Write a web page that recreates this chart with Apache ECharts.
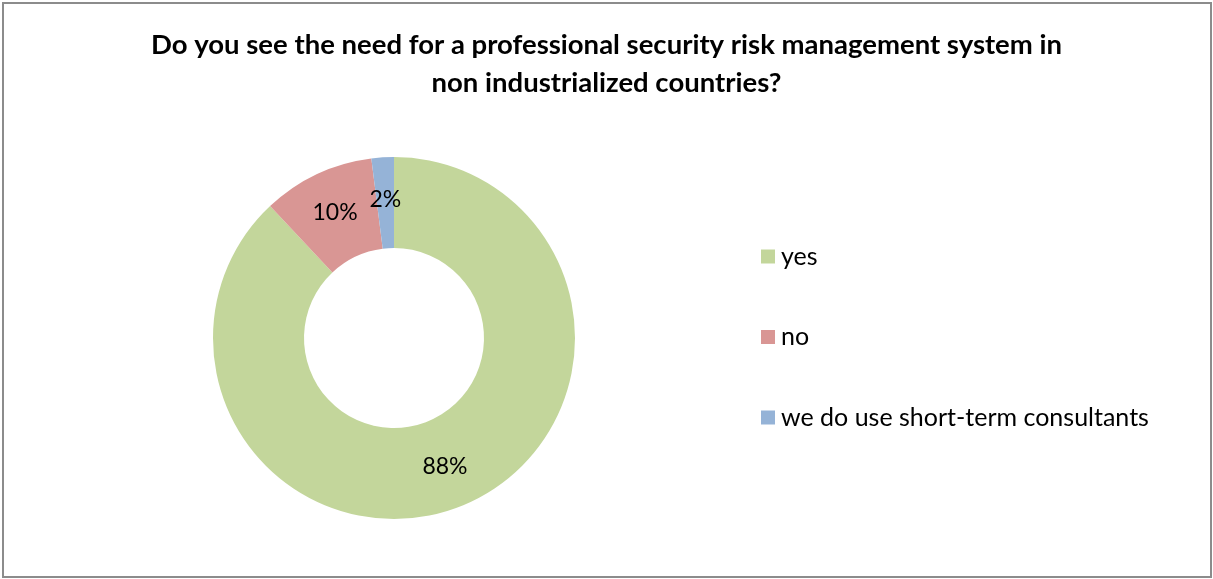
<!DOCTYPE html>
<html>
<head>
<meta charset="utf-8">
<script src="https://cdn.jsdelivr.net/npm/echarts@6/dist/echarts.min.js"></script>
<style>
  html, body { margin: 0; padding: 0; background: #fff; }
  #chart { width: 1213px; height: 579px; }
</style>
</head>
<body>
<div id="chart"></div>
<script>
// Survey answers and their shares (percent)
const titleText = 'Do you see the need for a professional security risk management system in\nnon industrialized countries?';
const categories = ['yes', 'no', 'we do use short-term consultants'];
const shares = [88, 10, 2];
const sliceColors = ['#C3D69B', '#D99694', '#95B3D7'];

const chart = echarts.init(document.getElementById('chart'), null, { renderer: 'canvas' });

const FONT = 'Lato, "Open Sans", sans-serif';

chart.setOption({
  animation: false,
  backgroundColor: '#ffffff',
  color: sliceColors,
  title: {
    text: titleText,
    left: 'center',
    top: 21,
    textStyle: {
      fontFamily: FONT,
      fontWeight: 'bold',
      fontSize: 27.5,
      lineHeight: 38,
      color: '#000'
    }
  },
  legend: {
    orient: 'vertical',
    left: 756,
    top: 239,
    itemWidth: 14,
    itemHeight: 14,
    itemGap: 55.5,
    icon: 'rect',
    data: categories,
    textStyle: {
      fontFamily: FONT,
      fontSize: 25,
      lineHeight: 22,
      color: '#000',
      padding: [0, 0, 0, 1]
    }
  },
  graphic: [{
    type: 'rect',
    shape: { x: 3, y: 3, width: 1208, height: 574 },
    style: { fill: 'none', stroke: '#8c8c8c', lineWidth: 2 },
    silent: true
  }],
  series: [{
    type: 'pie',
    center: [394, 338],
    radius: [90, 181],
    startAngle: 90,
    clockwise: true,
    avoidLabelOverlap: false,
    label: {
      show: true,
      position: 'inside',
      formatter: '{c}%',
      fontFamily: FONT,
      fontSize: 23,
      color: '#000'
    },
    labelLine: { show: false },
    itemStyle: { borderWidth: 0 },
    emphasis: { disabled: true },
    data: categories.map((name, i) => ({ name: name, value: shares[i] }))
  }]
});
</script>
</body>
</html>
